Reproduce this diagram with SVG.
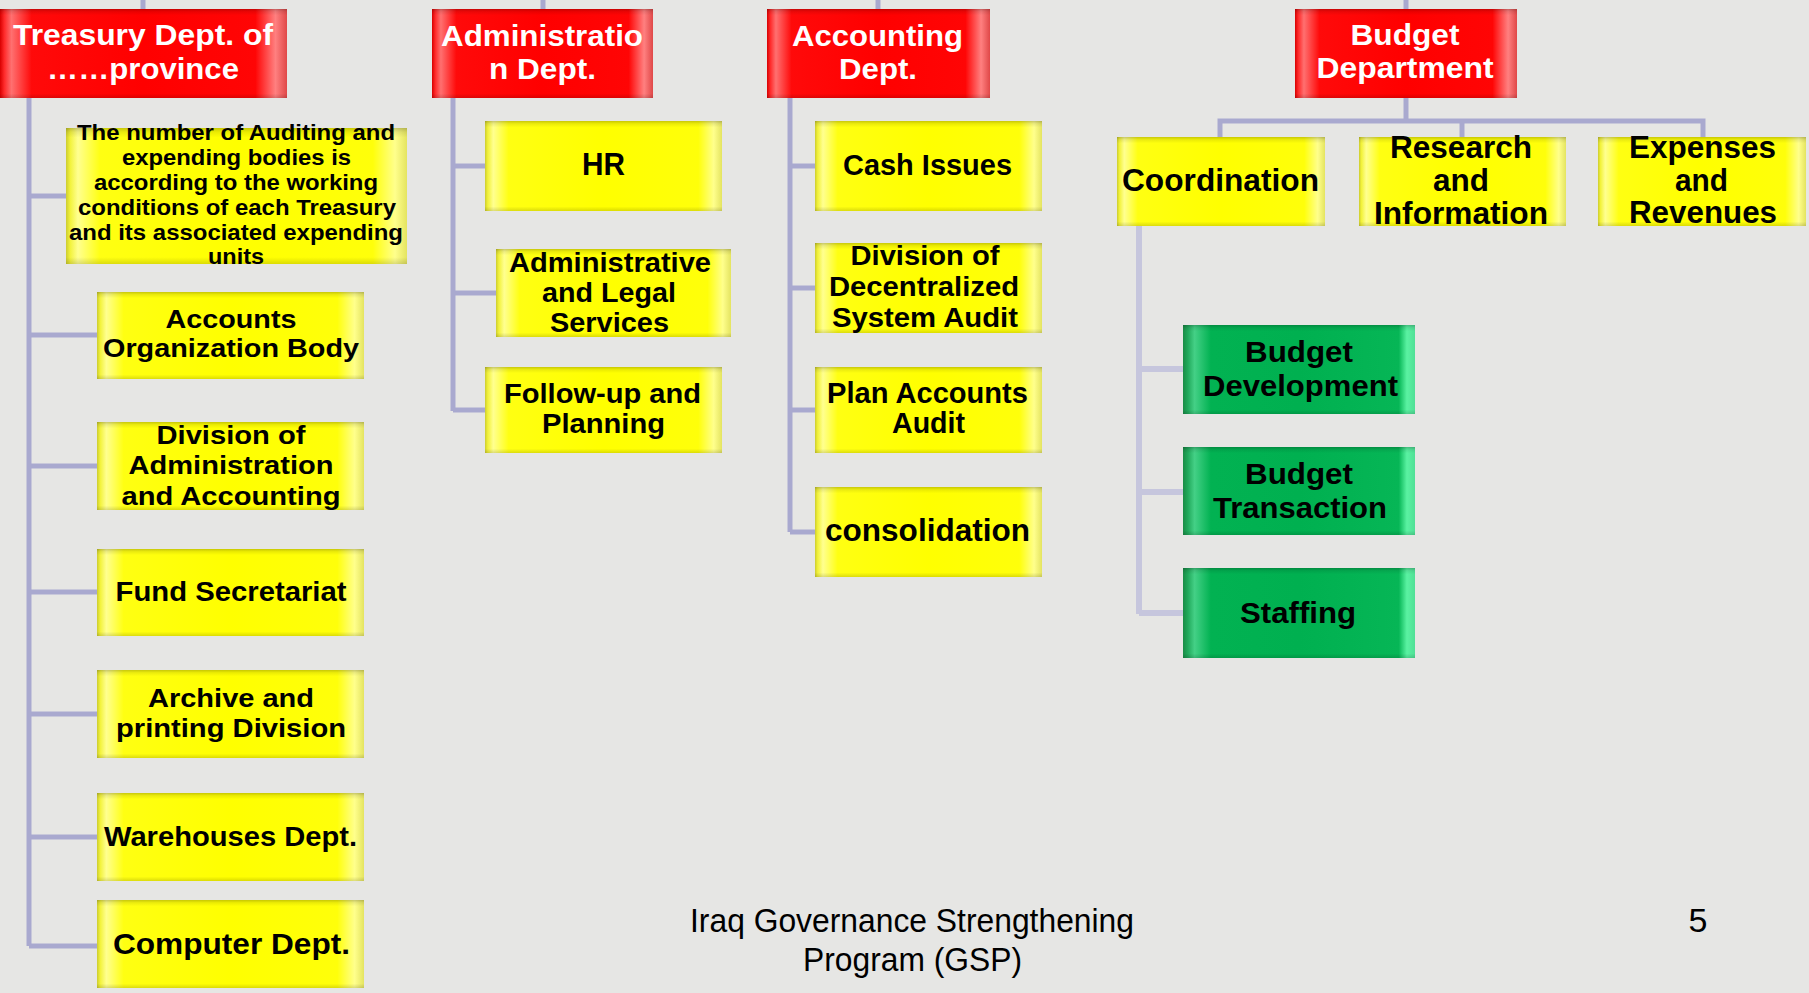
<svg xmlns="http://www.w3.org/2000/svg" width="1809" height="993" viewBox="0 0 1809 993">
  <defs>
    <!-- bevelled fills: light side faces, darker rims -->
    <linearGradient id="redH" x1="0" y1="0" x2="1" y2="0">
      <stop offset="0" stop-color="#d80000"/>
      <stop offset="0.015" stop-color="#ff2a2a"/>
      <stop offset="0.04" stop-color="#ff7070"/>
      <stop offset="0.11" stop-color="#ff0a0a"/>
      <stop offset="0.5" stop-color="#ff0000"/>
      <stop offset="0.89" stop-color="#ff0505"/>
      <stop offset="0.96" stop-color="#ff8080"/>
      <stop offset="1" stop-color="#e04848"/>
    </linearGradient>
    <linearGradient id="yelH" x1="0" y1="0" x2="1" y2="0">
      <stop offset="0" stop-color="#cccc30"/>
      <stop offset="0.012" stop-color="#f2f23a"/>
      <stop offset="0.035" stop-color="#ffff90"/>
      <stop offset="0.1" stop-color="#ffff12"/>
      <stop offset="0.5" stop-color="#ffff00"/>
      <stop offset="0.9" stop-color="#ffff0a"/>
      <stop offset="0.965" stop-color="#ffff8c"/>
      <stop offset="1" stop-color="#e4e460"/>
    </linearGradient>
    <linearGradient id="grnH" x1="0" y1="0" x2="1" y2="0">
      <stop offset="0" stop-color="#1a8c46"/>
      <stop offset="0.02" stop-color="#20a85a"/>
      <stop offset="0.05" stop-color="#44d086"/>
      <stop offset="0.12" stop-color="#02b252"/>
      <stop offset="0.5" stop-color="#00b050"/>
      <stop offset="0.93" stop-color="#06b656"/>
      <stop offset="0.965" stop-color="#5af2a2"/>
      <stop offset="1" stop-color="#50e096"/>
    </linearGradient>
    <linearGradient id="rim" x1="0" y1="0" x2="0" y2="1">
      <stop offset="0" stop-color="#000" stop-opacity="0.22"/>
      <stop offset="0.03" stop-color="#000" stop-opacity="0.08"/>
      <stop offset="0.07" stop-color="#000" stop-opacity="0"/>
      <stop offset="0.95" stop-color="#000" stop-opacity="0"/>
      <stop offset="1" stop-color="#000" stop-opacity="0.14"/>
    </linearGradient>
  </defs>
  <style>
    .bg { fill: #e6e6e4; }
    .c { fill: none; stroke: #a9a9cf; stroke-width: 5; stroke-linejoin: miter; }
    .c2 { fill: none; stroke: #c6c6dd; stroke-width: 6; }
    .red { fill: url(#redH); }
    .yel { fill: url(#yelH); }
    .grn { fill: url(#grnH); }
    .rim { fill: url(#rim); }
    text { font-family: "Liberation Sans", Arial, sans-serif; text-anchor: middle; }
    .h { font-weight: bold; fill: #ffffff; font-size: 30px; }
    .b { font-weight: bold; fill: #000000; }
    .f { fill: #000000; font-size: 34px; }
  </style>

  <rect class="bg" x="0" y="0" width="1809" height="993"/>

  <!-- connectors -->
  <g id="connectors">
    <path class="c" d="M143 0V9 M543 0V9 M878 0V9 M1406 0V9"/>
    <!-- treasury branch -->
    <path class="c" d="M29 98V946 M29 196H66 M29 335H97 M29 466H97 M29 592H97 M29 714H97 M29 837H97 M29 946H97"/>
    <!-- administration branch -->
    <path class="c" d="M453 98V411 M453 166H485 M453 293H496 M453 410H485"/>
    <!-- accounting branch -->
    <path class="c" d="M790 98V532 M790 166H815 M790 288H815 M790 410H815 M790 532H815"/>
    <!-- budget branch -->
    <path class="c" d="M1406 98V121 M1220 137V121H1703V137 M1462 121V137"/>
    <path class="c2" d="M1139 226V614 M1139 369H1183 M1139 492H1183 M1139 613H1183"/>
  </g>

  <!-- department heads -->
  <g id="treasury">
    <rect class="red" x="0" y="9" width="287" height="89"/><rect class="rim" x="0" y="9" width="287" height="89"/>
    <text class="h" x="143" y="45" textLength="260" lengthAdjust="spacingAndGlyphs">Treasury Dept. of</text>
    <text class="h" x="143" y="79" textLength="192" lengthAdjust="spacingAndGlyphs">……province</text>
  </g>
  <g id="administration">
    <rect class="red" x="432" y="9" width="221" height="89"/><rect class="rim" x="432" y="9" width="221" height="89"/>
    <text class="h" x="542" y="46" textLength="202" lengthAdjust="spacingAndGlyphs">Administratio</text>
    <text class="h" x="542.5" y="79" textLength="107" lengthAdjust="spacingAndGlyphs">n Dept.</text>
  </g>
  <g id="accounting">
    <rect class="red" x="767" y="9" width="223" height="89"/><rect class="rim" x="767" y="9" width="223" height="89"/>
    <text class="h" x="877.5" y="46" textLength="171" lengthAdjust="spacingAndGlyphs">Accounting</text>
    <text class="h" x="878" y="79" textLength="78" lengthAdjust="spacingAndGlyphs">Dept.</text>
  </g>
  <g id="budget">
    <rect class="red" x="1295" y="9" width="222" height="89"/><rect class="rim" x="1295" y="9" width="222" height="89"/>
    <text class="h" x="1405" y="45" textLength="109" lengthAdjust="spacingAndGlyphs">Budget</text>
    <text class="h" x="1405" y="78" textLength="177" lengthAdjust="spacingAndGlyphs">Department</text>
  </g>

  <!-- treasury units -->
  <g id="auditing-note">
    <rect class="yel" x="66" y="128" width="341" height="136"/><rect class="rim" x="66" y="128" width="341" height="136"/>
    <g class="b" style="font-size:22px">
      <text x="236" y="140" textLength="318" lengthAdjust="spacingAndGlyphs">The number of Auditing and</text>
      <text x="236.5" y="165" textLength="229" lengthAdjust="spacingAndGlyphs">expending bodies is</text>
      <text x="236" y="190" textLength="284" lengthAdjust="spacingAndGlyphs">according to the working</text>
      <text x="237" y="215" textLength="318" lengthAdjust="spacingAndGlyphs">conditions of each Treasury</text>
      <text x="236" y="240" textLength="334" lengthAdjust="spacingAndGlyphs">and its associated expending</text>
      <text x="236" y="264" textLength="56" lengthAdjust="spacingAndGlyphs">units</text>
    </g>
  </g>
  <g id="accounts-organization">
    <rect class="yel" x="97" y="292" width="267" height="87"/><rect class="rim" x="97" y="292" width="267" height="87"/>
    <g class="b" style="font-size:26px">
      <text x="231" y="328" textLength="131" lengthAdjust="spacingAndGlyphs">Accounts</text>
      <text x="231" y="357" textLength="256" lengthAdjust="spacingAndGlyphs">Organization Body</text>
    </g>
  </g>
  <g id="administration-accounting">
    <rect class="yel" x="97" y="422" width="267" height="88"/><rect class="rim" x="97" y="422" width="267" height="88"/>
    <g class="b" style="font-size:26px">
      <text x="231" y="444" textLength="149" lengthAdjust="spacingAndGlyphs">Division of</text>
      <text x="231" y="474" textLength="205" lengthAdjust="spacingAndGlyphs">Administration</text>
      <text x="231" y="505" textLength="219" lengthAdjust="spacingAndGlyphs">and Accounting</text>
    </g>
  </g>
  <g id="fund-secretariat">
    <rect class="yel" x="97" y="549" width="267" height="87"/><rect class="rim" x="97" y="549" width="267" height="87"/>
    <text class="b" style="font-size:27px" x="231" y="601" textLength="231" lengthAdjust="spacingAndGlyphs">Fund Secretariat</text>
  </g>
  <g id="archive-printing">
    <rect class="yel" x="97" y="670" width="267" height="88"/><rect class="rim" x="97" y="670" width="267" height="88"/>
    <g class="b" style="font-size:26px">
      <text x="231" y="707" textLength="166" lengthAdjust="spacingAndGlyphs">Archive and</text>
      <text x="231" y="737" textLength="230" lengthAdjust="spacingAndGlyphs">printing Division</text>
    </g>
  </g>
  <g id="warehouses">
    <rect class="yel" x="97" y="793" width="267" height="88"/><rect class="rim" x="97" y="793" width="267" height="88"/>
    <text class="b" style="font-size:28px" x="230.5" y="846" textLength="253" lengthAdjust="spacingAndGlyphs">Warehouses Dept.</text>
  </g>
  <g id="computer">
    <rect class="yel" x="97" y="900" width="267" height="88"/><rect class="rim" x="97" y="900" width="267" height="88"/>
    <text class="b" style="font-size:30px" x="231.5" y="954" textLength="237" lengthAdjust="spacingAndGlyphs">Computer Dept.</text>
  </g>

  <!-- administration units -->
  <g id="hr">
    <rect class="yel" x="485" y="121" width="237" height="90"/><rect class="rim" x="485" y="121" width="237" height="90"/>
    <text class="b" style="font-size:31px" x="603.5" y="175" textLength="43" lengthAdjust="spacingAndGlyphs">HR</text>
  </g>
  <g id="admin-legal">
    <rect class="yel" x="496" y="249" width="235" height="88"/><rect class="rim" x="496" y="249" width="235" height="88"/>
    <g class="b" style="font-size:27px">
      <text x="610" y="272" textLength="202" lengthAdjust="spacingAndGlyphs">Administrative</text>
      <text x="609" y="302" textLength="134" lengthAdjust="spacingAndGlyphs">and Legal</text>
      <text x="609.5" y="332" textLength="119" lengthAdjust="spacingAndGlyphs">Services</text>
    </g>
  </g>
  <g id="follow-up">
    <rect class="yel" x="485" y="367" width="237" height="86"/><rect class="rim" x="485" y="367" width="237" height="86"/>
    <g class="b" style="font-size:28px">
      <text x="602.5" y="403" textLength="197" lengthAdjust="spacingAndGlyphs">Follow-up and</text>
      <text x="603.5" y="433" textLength="123" lengthAdjust="spacingAndGlyphs">Planning</text>
    </g>
  </g>

  <!-- accounting units -->
  <g id="cash-issues">
    <rect class="yel" x="815" y="121" width="227" height="90"/><rect class="rim" x="815" y="121" width="227" height="90"/>
    <text class="b" style="font-size:29px" x="927.5" y="175" textLength="169" lengthAdjust="spacingAndGlyphs">Cash Issues</text>
  </g>
  <g id="decentralized-audit">
    <rect class="yel" x="815" y="243" width="227" height="90"/><rect class="rim" x="815" y="243" width="227" height="90"/>
    <g class="b" style="font-size:28px">
      <text x="925" y="265" textLength="149" lengthAdjust="spacingAndGlyphs">Division of</text>
      <text x="924" y="296" textLength="190" lengthAdjust="spacingAndGlyphs">Decentralized</text>
      <text x="925" y="327" textLength="186" lengthAdjust="spacingAndGlyphs">System Audit</text>
    </g>
  </g>
  <g id="plan-accounts">
    <rect class="yel" x="815" y="367" width="227" height="86"/><rect class="rim" x="815" y="367" width="227" height="86"/>
    <g class="b" style="font-size:29px">
      <text x="927.5" y="403" textLength="201" lengthAdjust="spacingAndGlyphs">Plan Accounts</text>
      <text x="928.5" y="433" textLength="73" lengthAdjust="spacingAndGlyphs">Audit</text>
    </g>
  </g>
  <g id="consolidation">
    <rect class="yel" x="815" y="487" width="227" height="90"/><rect class="rim" x="815" y="487" width="227" height="90"/>
    <text class="b" style="font-size:31px" x="927.5" y="541" textLength="205" lengthAdjust="spacingAndGlyphs">consolidation</text>
  </g>

  <!-- budget units -->
  <g id="coordination">
    <rect class="yel" x="1117" y="137" width="208" height="89"/><rect class="rim" x="1117" y="137" width="208" height="89"/>
    <text class="b" style="font-size:31px" x="1220.5" y="191" textLength="197" lengthAdjust="spacingAndGlyphs">Coordination</text>
  </g>
  <g id="research-information">
    <rect class="yel" x="1359" y="137" width="207" height="89"/><rect class="rim" x="1359" y="137" width="207" height="89"/>
    <g class="b" style="font-size:31px">
      <text x="1461" y="158" textLength="142" lengthAdjust="spacingAndGlyphs">Research</text>
      <text x="1461" y="191" textLength="56" lengthAdjust="spacingAndGlyphs">and</text>
      <text x="1461" y="224" textLength="174" lengthAdjust="spacingAndGlyphs">Information</text>
    </g>
  </g>
  <g id="expenses-revenues">
    <rect class="yel" x="1598" y="137" width="208" height="89"/><rect class="rim" x="1598" y="137" width="208" height="89"/>
    <g class="b" style="font-size:31px">
      <text x="1702.5" y="158" textLength="147" lengthAdjust="spacingAndGlyphs">Expenses</text>
      <text x="1701.5" y="191" textLength="53" lengthAdjust="spacingAndGlyphs">and</text>
      <text x="1703" y="223" textLength="148" lengthAdjust="spacingAndGlyphs">Revenues</text>
    </g>
  </g>
  <g id="budget-development">
    <rect class="grn" x="1183" y="325" width="232" height="89"/><rect class="rim" x="1183" y="325" width="232" height="89"/>
    <g class="b" style="font-size:29px">
      <text x="1299" y="362" textLength="108" lengthAdjust="spacingAndGlyphs">Budget</text>
      <text x="1300.5" y="396" textLength="195" lengthAdjust="spacingAndGlyphs">Development</text>
    </g>
  </g>
  <g id="budget-transaction">
    <rect class="grn" x="1183" y="447" width="232" height="88"/><rect class="rim" x="1183" y="447" width="232" height="88"/>
    <g class="b" style="font-size:29px">
      <text x="1299" y="484" textLength="108" lengthAdjust="spacingAndGlyphs">Budget</text>
      <text x="1300" y="518" textLength="174" lengthAdjust="spacingAndGlyphs">Transaction</text>
    </g>
  </g>
  <g id="staffing">
    <rect class="grn" x="1183" y="568" width="232" height="90"/><rect class="rim" x="1183" y="568" width="232" height="90"/>
    <text class="b" style="font-size:30px" x="1298" y="623" textLength="116" lengthAdjust="spacingAndGlyphs">Staffing</text>
  </g>

  <!-- footer -->
  <g id="footer">
    <text class="f" x="912" y="932" textLength="444" lengthAdjust="spacingAndGlyphs">Iraq Governance Strengthening</text>
    <text class="f" x="912.5" y="971" textLength="219" lengthAdjust="spacingAndGlyphs">Program (GSP)</text>
    <text class="f" x="1698" y="932">5</text>
  </g>
</svg>
